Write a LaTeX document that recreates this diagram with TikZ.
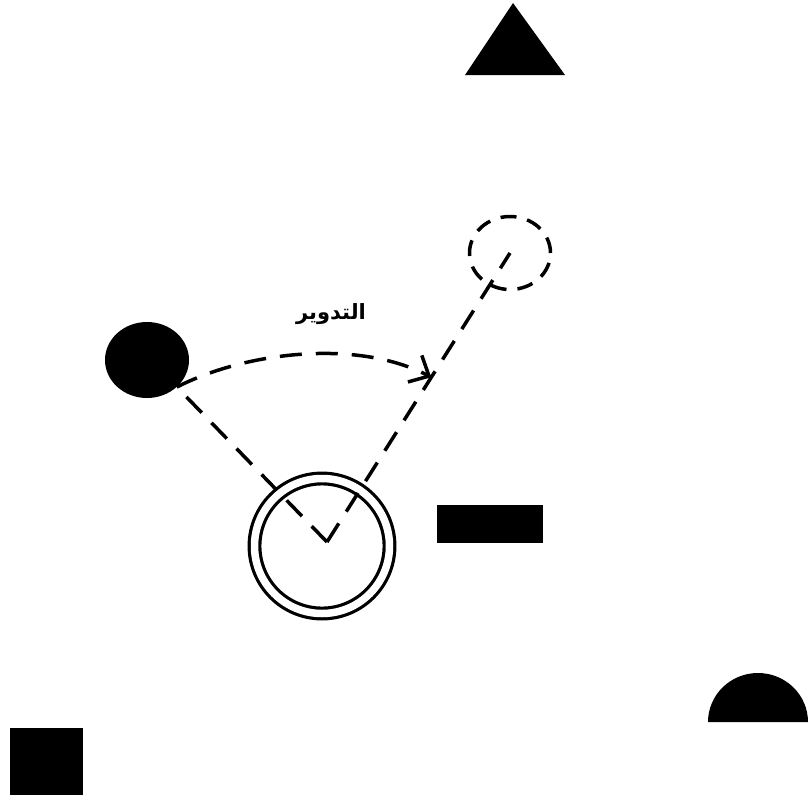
\documentclass[tikz,border=0pt]{standalone}
\usepackage{fontspec}
\newfontfamily\arabicfont[Script=Arabic]{DejaVu Sans}
\TeXXeTstate=1
\usetikzlibrary{arrows.meta,calc,shapes.geometric}
\tikzset{
  tomor/.style={fill=black,draw=none,inner sep=0pt},
  szag/.style={line width=3.5pt,dash pattern=on 22pt off 14pt},
  nyil/.style={-{Straight Barb[length=16pt,width=30pt,line width=3.5pt]}},
}

\begin{document}
\begin{tikzpicture}[x=1pt,y=-1pt]
  \useasboundingbox (0,0) rectangle (809,801);
  \fill (465,75) -- (513,3) -- (565,75) -- cycle;
  \node[tomor,ellipse,minimum width=84pt,minimum height=76pt] (labda) at (147,360) {};
  \node[draw,ellipse,szag,dash pattern=on 16pt off 11pt,minimum width=81pt,
    minimum height=73pt] (cel) at (510,253) {};
  \node[draw,circle,line width=3.2pt,double,double distance=7.5pt,minimum size=135pt,
    inner sep=0pt] (kor) at (322,546) {};
  \coordinate (csucs) at (327,542);
  \draw[szag] (csucs) -- (labda.south east);
  \draw[szag] (csucs) -- (cel.center);
  \coordinate (vege) at ($(csucs)!0.57!(cel.center)$);
  \draw[szag,nyil] (labda.south east) .. controls (250,350) and (360,340) .. (vege);
  \node[font=\arabicfont\bfseries\fontsize{21}{24}\selectfont] (felirat) at (331,314)
    {\beginR التدوير\endR};
  \fill (437,505) rectangle (543,543);
  \fill (708,722) arc[start angle=180,end angle=360,x radius=50,y radius=49] -- cycle;
  \fill (10,728) rectangle (83,795);
\end{tikzpicture}
\end{document}
